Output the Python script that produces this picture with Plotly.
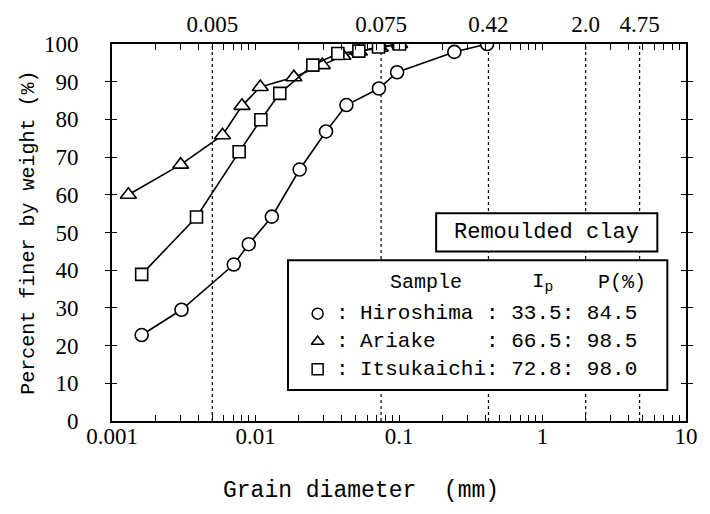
import plotly.graph_objects as go

# Grain size distribution data (diameter in mm, percent finer by weight)
hiroshima_d = [0.00161, 0.00305, 0.00706, 0.00897, 0.0130, 0.0203, 0.0310, 0.0430, 0.0725, 0.097, 0.243, 0.411]
hiroshima_p = [22.8, 29.5, 41.5, 46.9, 54.2, 66.7, 76.8, 83.8, 88.2, 92.5, 97.9, 100.0]

ariake_d = [0.00130, 0.00301, 0.00589, 0.00805, 0.0108, 0.0185, 0.0292, 0.0406, 0.053, 0.074, 0.101]
ariake_p = [60.0, 68.0, 75.8, 83.6, 88.6, 91.2, 94.4, 96.9, 98.0, 99.0, 100.0]

itsukaichi_d = [0.00161, 0.00388, 0.00769, 0.0109, 0.01476, 0.0251, 0.0375, 0.0525, 0.072, 0.101]
itsukaichi_p = [38.9, 54.1, 71.4, 79.9, 86.9, 94.4, 97.5, 98.1, 99.2, 100.0]

# Sieve sizes marked along the top edge
sieve_sizes = [0.005, 0.075, 0.42, 2.0, 4.75]
sieve_labels = ["0.005", "0.075", "0.42", "2.0", "4.75"]

# Legend table contents
samples = ["Hiroshima ", "Ariake    ", "Itsukaichi"]
plasticity_index = ["33.5", "66.5", "72.8"]
fines_content = ["84.5", "98.5", "98.0"]
sample_symbols = ["circle", "triangle-up", "square"]

W, H = 710, 514
L, R, T, B = 112, 687, 37, 421

def px(x):
    return (x - L) / (R - L)

def py(y):
    return (B - y) / (B - T)

# Log tick positions: every 1..9 multiple per decade, labels only at decades
tick_vals, tick_text = [], []
for e in range(-3, 1):
    for m in range(1, 10):
        tick_vals.append(m * 10 ** e)
        tick_text.append((f"{10 ** e:g}") if m == 1 else "")
tick_vals.append(10)
tick_text.append("10")

serif = "Liberation Serif, Times New Roman, serif"
mono = "Liberation Mono, monospace"

fig = go.Figure()

line_common = dict(color="black", width=1.6)

def marker(sym, size=12):
    return dict(symbol=sym, size=size, color="white", line=dict(color="black", width=1.6))

fig.add_trace(go.Scatter(x=ariake_d, y=ariake_p, mode="lines+markers",
                         line=line_common, marker=marker("triangle-up", 14),
                         showlegend=False, name="Ariake"))
fig.add_trace(go.Scatter(x=itsukaichi_d, y=itsukaichi_p, mode="lines+markers",
                         line=line_common, marker=marker("square", 12),
                         showlegend=False, name="Itsukaichi"))
fig.add_trace(go.Scatter(x=hiroshima_d, y=hiroshima_p, mode="lines+markers",
                         line=line_common, marker=marker("circle", 13),
                         showlegend=False, name="Hiroshima"))

# Invisible trace carrying the top (sieve) axis
fig.add_trace(go.Scatter(x=sieve_sizes, y=[None] * len(sieve_sizes), xaxis="x2",
                         mode="markers", showlegend=False, hoverinfo="skip"))

fig.update_layout(
    width=W, height=H,
    margin=dict(l=L, r=W - R, t=T, b=H - B),
    paper_bgcolor="white", plot_bgcolor="white",
    xaxis=dict(type="log", range=[-3, 1], tickvals=tick_vals, ticktext=tick_text,
               tickangle=0, ticks="inside", ticklen=6, tickwidth=1.2, tickcolor="black",
               showline=True, linecolor="black", linewidth=2, mirror="allticks",
               showgrid=False, zeroline=False, ticklabelstandoff=-7,
               tickfont=dict(family=serif, size=23, color="black")),
    xaxis2=dict(type="log", range=[-3, 1], overlaying="x", side="top",
                tickvals=sieve_sizes, ticktext=sieve_labels, ticks="", tickangle=0,
                showgrid=False, showline=False, zeroline=False, ticklabelstandoff=6,
                tickfont=dict(family=serif, size=23, color="black")),
    yaxis=dict(range=[0, 100], tickvals=list(range(0, 101, 10)),
               ticks="inside", ticklen=5, tickwidth=1.2, tickcolor="black",
               showline=True, linecolor="black", linewidth=2, mirror="allticks",
               showgrid=False, zeroline=False, ticklabelstandoff=27,
               tickfont=dict(family=serif, size=23, color="black")),
)

# Dotted sieve lines under everything, then white label boxes above them
shapes = [
    dict(type="line", xref="x", yref="paper", x0=s, x1=s, y0=0, y1=1,
         line=dict(color="black", width=1.2, dash="dot"), layer="below")
    for s in sieve_sizes
]
shapes += [
    dict(type="rect", xref="paper", yref="paper", x0=px(436.7), x1=px(658.3),
         y0=py(248.3), y1=py(209.3), line=dict(color="black", width=2),
         fillcolor="white", layer="between"),
    dict(type="rect", xref="paper", yref="paper", x0=px(288.3), x1=px(668.3),
         y0=py(389.3), y1=py(257.3), line=dict(color="black", width=2),
         fillcolor="white", layer="between"),
]
fig.update_layout(shapes=shapes)

ann = []
def text(x, y, s, size=21, family=mono, xanchor="center", **kw):
    ann.append(dict(xref="paper", yref="paper", x=px(x), y=py(y), text=s,
                    showarrow=False, xanchor=xanchor, yanchor="middle",
                    font=dict(family=family, size=size, color="black"), **kw))

text(547.5, 229, "Remoulded clay", size=22)
text(426.7, 280, "Sample", size=20)
text(543, 280, "I<sub>p</sub>", size=21)
text(623, 280, "P(%)", size=20)

row_y = [311.7, 340, 368.3]
for name, ip, pc, yy in zip(samples, plasticity_index, fines_content, row_y):
    text(343, yy, ":", size=21)
    text(358, yy, f"{name}: {ip}: {pc}", size=21, xanchor="left")

text(28, 229, "Percent finer by weight (%)", size=20, textangle=-90)
text(361, 492, "Grain diameter  (mm)", size=23)
fig.update_layout(annotations=ann)

# Legend symbols drawn as markers in an overlaid unit axis
fig.add_trace(go.Scatter(x=[px(318)] * 3, y=[py(v) for v in row_y], xaxis="x3", yaxis="y3",
                         mode="markers", showlegend=False, hoverinfo="skip",
                         marker=dict(symbol=sample_symbols, size=11, color="white",
                                     line=dict(color="black", width=1.5))))
fig.update_layout(
    xaxis3=dict(range=[0, 1], overlaying="x", visible=False),
    yaxis3=dict(range=[0, 1], overlaying="y", visible=False),
)

fig.write_html("out.html")
